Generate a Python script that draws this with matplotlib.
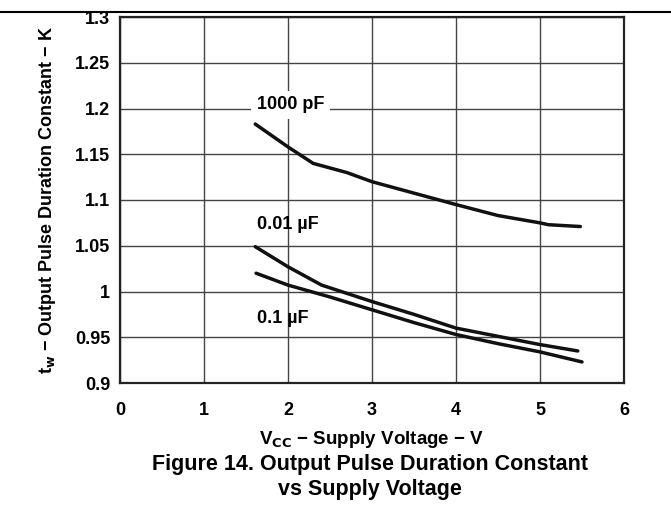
import matplotlib
matplotlib.use('Agg')
import matplotlib.pyplot as plt
import numpy as np

plt.rcParams['font.family'] = ['Liberation Sans', 'DejaVu Sans']
plt.rcParams['font.weight'] = 'bold'

# curves
v_1000pF = [1.61, 2.0, 2.3, 2.7, 3.0, 3.4, 4.0, 4.5, 5.0, 5.1, 5.48]
k_1000pF = [1.183, 1.158, 1.140, 1.130, 1.120, 1.110, 1.095, 1.083, 1.075, 1.073, 1.071]

v_001uF = [1.61, 2.0, 2.4, 3.0, 3.5, 4.0, 4.5, 5.0, 5.45]
k_001uF = [1.049, 1.027, 1.007, 0.989, 0.975, 0.960, 0.951, 0.942, 0.935]

v_01uF = [1.62, 2.0, 2.5, 3.0, 3.5, 4.0, 4.5, 5.0, 5.5]
k_01uF = [1.020, 1.007, 0.994, 0.980, 0.966, 0.953, 0.943, 0.934, 0.923]

x_ticks = [0, 1, 2, 3, 4, 5, 6]
y_ticks = [0.9, 0.95, 1.0, 1.05, 1.1, 1.15, 1.2, 1.25, 1.3]
y_labels = ['0.9', '0.95', '1', '1.05', '1.1', '1.15', '1.2', '1.25', '1.3']

fig = plt.figure(figsize=(6.71, 5.18), dpi=100)
ax = fig.add_axes([120/671, 1-383/518, 504/671, 366/518])

# line across the top of the page
fig.add_artist(plt.Line2D([0, 1], [1-12/518, 1-12/518], color='black', lw=1.5,
                          transform=fig.transFigure))

ax.plot(v_1000pF, k_1000pF, color='#111111', lw=2.5, solid_capstyle='round', zorder=3)
ax.plot(v_001uF, k_001uF, color='#111111', lw=2.5, solid_capstyle='round', zorder=3)
ax.plot(v_01uF, k_01uF, color='#111111', lw=2.5, solid_capstyle='round', zorder=3)

ax.set_xlim(0, 6)
ax.set_ylim(0.9, 1.3)
ax.set_xticks(x_ticks)
ax.set_yticks(y_ticks)
ax.set_yticklabels(y_labels)
ax.tick_params(length=0, labelsize=13)
ax.tick_params(axis='x', pad=14)
ax.tick_params(axis='y', pad=7)
ax.grid(True, color='#444444', lw=1.0)
for s in ax.spines.values():
    s.set_color('#222222')
    s.set_linewidth(1.6)

txt_kw = dict(fontsize=13, fontweight='bold', va='center', ha='left', zorder=4)
ax.text(1.63, 1.204, '1000 pF', bbox=dict(facecolor='white', edgecolor='none', pad=4), **txt_kw)
ax.text(1.63, 1.073, '0.01 µF', **txt_kw)
ax.text(1.63, 0.970, '0.1 µF', **txt_kw)

ax.set_xlabel('V$_{\\mathbf{CC}}$ − Supply Voltage − V', fontsize=13.5, fontweight='bold', va='center')
ax.xaxis.set_label_coords(0.5, -(440 - 383) / 366)
ax.set_ylabel('t$_{\\mathbf{w}}$ − Output Pulse Duration Constant − K', fontsize=13,
              fontweight='bold', labelpad=12)

fig.text(370/671, 1-477/518, 'Figure 14. Output Pulse Duration Constant\nvs Supply Voltage',
         ha='center', va='center', fontsize=15.5, fontweight='bold', linespacing=1.2)

fig.savefig('out.png', dpi=100)
